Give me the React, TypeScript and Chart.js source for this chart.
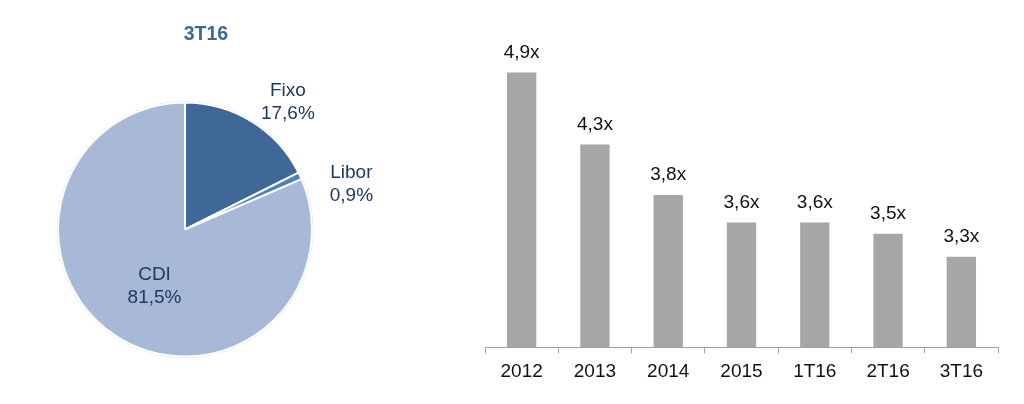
import React, { useEffect, useRef } from "react";
import { Chart, registerables } from "chart.js";

Chart.register(...registerables);

const pieTitle = "3T16";
const pieLabels = ["Fixo", "Libor", "CDI"];
const pieValues = [17.6, 0.9, 81.5];
const pieColors = ["#3F6899", "#4F81BD", "#A8B9D7"];

const barCategories = ["2012", "2013", "2014", "2015", "1T16", "2T16", "3T16"];
const barValues = [4.9, 4.27, 3.83, 3.59, 3.59, 3.49, 3.29];

const FONT = "'Liberation Sans', Arial, sans-serif";
const LABEL_COLOR = "#1F3A60";

const fmtPct = (v: number) => v.toFixed(1).replace(".", ",") + "%";
const fmtX = (v: number) => v.toFixed(1).replace(".", ",") + "x";

// label anchor offsets relative to pie centre, in units of radius
const pieLabelOffsets = [
  [0.81, -1.0],
  [1.31, -0.36],
  [-0.24, 0.45],
];

const pieLabelPlugin = {
  id: "pieLabels",
  afterDraw(chart: any) {
    const ctx = chart.ctx;
    const meta = chart.getDatasetMeta(0);
    const arc = meta.data[0];
    if (!arc) return;
    const cx = arc.x;
    const cy = arc.y;
    const r = arc.outerRadius;
    ctx.save();
    ctx.font = `bold 19.5px ${FONT}`;
    ctx.fillStyle = "#3F6899";
    ctx.textAlign = "center";
    ctx.textBaseline = "middle";
    ctx.fillText(pieTitle, cx + 0.165 * r, cy - 1.535 * r);
    ctx.font = `19px ${FONT}`;
    ctx.fillStyle = LABEL_COLOR;
    pieLabels.forEach((lab, i) => {
      const [ox, oy] = pieLabelOffsets[i];
      const x = cx + ox * r;
      const y = cy + oy * r;
      ctx.fillText(lab, x, y - 11.5);
      ctx.fillText(fmtPct(pieValues[i]), x, y + 11.5);
    });
    ctx.restore();
  },
};

const pieOutlinePlugin = {
  id: "pieOutline",
  beforeDatasetsDraw(chart: any) {
    const arc = chart.getDatasetMeta(0).data[0];
    if (!arc) return;
    const ctx = chart.ctx;
    ctx.save();
    ctx.beginPath();
    ctx.arc(arc.x, arc.y, arc.outerRadius + 0.8, 0, Math.PI * 2);
    ctx.strokeStyle = "rgba(160,160,160,0.45)";
    ctx.lineWidth = 1;
    ctx.stroke();
    ctx.restore();
  },
};

const barLabelPlugin = {
  id: "barLabels",
  afterDatasetsDraw(chart: any) {
    const ctx = chart.ctx;
    const meta = chart.getDatasetMeta(0);
    ctx.save();
    ctx.font = `19px ${FONT}`;
    ctx.fillStyle = "#111111";
    ctx.textAlign = "center";
    ctx.textBaseline = "middle";
    meta.data.forEach((bar: any, i: number) => {
      ctx.fillText(fmtX(barValues[i]), bar.x, bar.y - 20);
    });
    ctx.restore();
  },
};

export default function App() {
  const pieRef = useRef<HTMLCanvasElement>(null);
  const barRef = useRef<HTMLCanvasElement>(null);

  useEffect(() => {
    const pie = new Chart(pieRef.current as HTMLCanvasElement, {
      type: "pie",
      data: {
        labels: pieLabels,
        datasets: [
          {
            data: pieValues,
            backgroundColor: pieColors,
            borderColor: "#FFFFFF",
            borderWidth: 2,
            radius: 127,
          } as any,
        ],
      },
      options: {
        animation: false,
        responsive: false,
        maintainAspectRatio: false,
        layout: { padding: { left: 0, right: 30, top: 55, bottom: 0 } },
        plugins: {
          legend: { display: false },
          tooltip: { enabled: false },
          title: { display: false },
        },
      },
      plugins: [pieOutlinePlugin, pieLabelPlugin],
    });

    const bar = new Chart(barRef.current as HTMLCanvasElement, {
      type: "bar",
      data: {
        labels: barCategories,
        datasets: [
          {
            data: barValues,
            backgroundColor: "#A6A6A6",
            categoryPercentage: 1,
            barPercentage: 0.4,
          },
        ],
      },
      options: {
        animation: false,
        responsive: false,
        maintainAspectRatio: false,
        layout: { padding: { left: 25, right: 26, top: 61, bottom: 14 } },
        plugins: {
          legend: { display: false },
          tooltip: { enabled: false },
        },
        scales: {
          x: {
            border: { display: true, color: "#A0A0A0", width: 1 },
            grid: {
              display: true,
              offset: true,
              drawOnChartArea: false,
              drawTicks: true,
              tickLength: 6,
              color: "#A0A0A0",
            },
            ticks: {
              color: "#111111",
              font: { family: FONT, size: 19 },
              padding: 7,
              maxRotation: 0,
            },
          },
          y: {
            display: false,
            min: 2.5,
            max: 5.0,
          },
        },
      },
      plugins: [barLabelPlugin],
    });

    return () => {
      pie.destroy();
      bar.destroy();
    };
  }, []);

  return (
    <div
      style={{
        position: "fixed",
        left: 0,
        top: 0,
        width: 1024,
        height: 404,
        background: "#FFFFFF",
      }}
    >
      <canvas
        ref={pieRef}
        width={400}
        height={404}
        style={{ position: "absolute", left: 0, top: 0, width: 400, height: 404 }}
      />
      <canvas
        ref={barRef}
        width={564}
        height={404}
        style={{ position: "absolute", left: 460, top: 0, width: 564, height: 404 }}
      />
    </div>
  );
}
